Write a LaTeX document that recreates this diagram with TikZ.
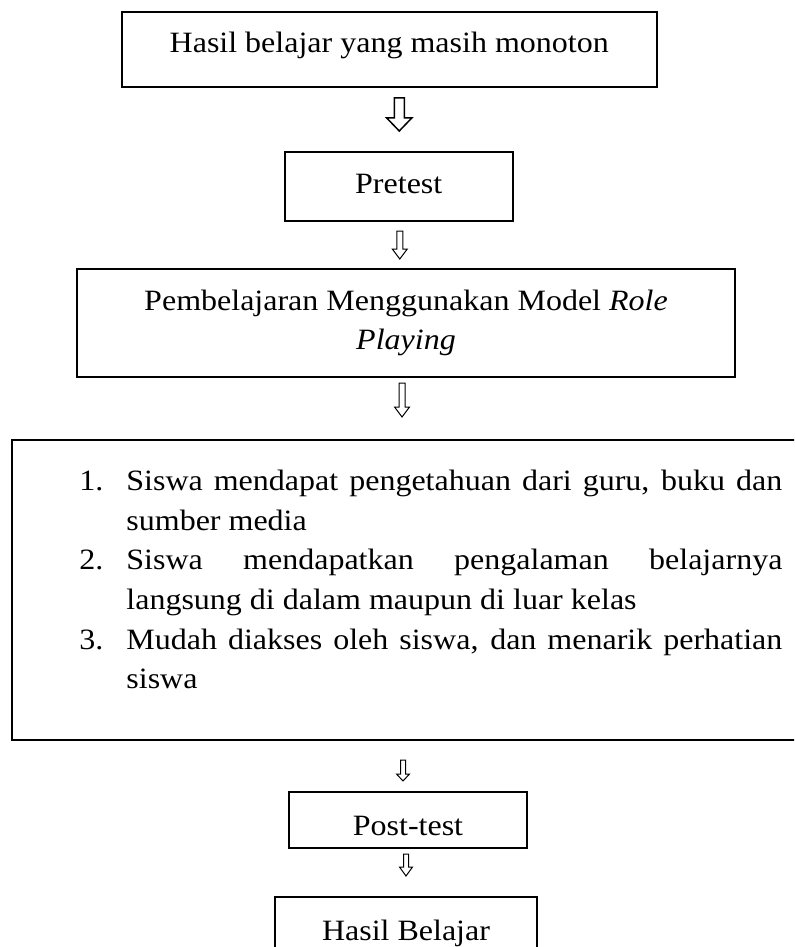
\documentclass[tikz,border=0pt]{standalone}
\usepackage{fontspec}
\setmainfont{Liberation Serif}[FakeStretch=1.085]
\usetikzlibrary{calc}
\newcommand{\flowfont}{\fontsize{14.75}{19.85}\selectfont}
% hollow block arrow pointing down: [opts]{start}{end}{half shaft}{half head}{head length}
\newcommand{\hollowarrow}[6][]{%
  \draw[hollow,#1] ($(#2)+(-#4,0)$) -- ($(#3)+(-#4,-#6)$) -- ($(#3)+(-#5,-#6)$)
    -- (#3) -- ($(#3)+(#5,-#6)$) -- ($(#3)+(#4,-#6)$) -- ($(#2)+(#4,0)$) -- cycle;}

\begin{document}
\begin{tikzpicture}[
    x=0.5pt,y=-0.5pt,
    stage/.style={draw,line width=1pt,font=\flowfont,inner sep=0pt},
    hollow/.style={draw,line width=0.5pt,line join=miter,fill=white}
  ]
  \useasboundingbox (0,0) rectangle (794,947);
  \clip (0,0) rectangle (794,947);

  \node[stage,minimum width=267.75pt,minimum height=37.5pt,text height=10pt,text depth=6.5pt]
    (awal) at (389.25,49.5) {Hasil belajar yang masih monoton};
  \node[stage,minimum width=114.25pt,minimum height=34.5pt,text height=10pt,text depth=3.5pt]
    (pre) at (398.75,186.5) {Pretest};
  \node[stage,minimum width=329pt,minimum height=54pt,align=center]
    (model) at (406,323) {Pembelajaran Menggunakan Model \textit{Role}\\\textit{Playing}};

  % box with the three points, its right side runs off the page
  \node[stage,minimum width=397pt,minimum height=150pt] (kotak) at (409,590) {};
  \node[anchor=north west,inner sep=0pt,font=\flowfont] (langkah) at (79,462.2) {%
    \hyphenpenalty=10000
    \begin{tabular}{@{}p{23.5pt}@{}p{328pt}@{}}
      1. & Siswa mendapat pengetahuan dari guru, buku dan\linebreak sumber media\\
      2. & Siswa mendapatkan pengalaman belajarnya\linebreak langsung di dalam maupun di luar kelas\\
      3. & Mudah diakses oleh siswa, dan menarik perhatian\linebreak siswa
    \end{tabular}};

  \node[stage,minimum width=119pt,minimum height=28pt,text height=15.5pt,text depth=0.5pt]
    (post) at (408,820) {Post-test};
  \node[stage,minimum width=131pt,minimum height=37pt,text height=10pt,text depth=4pt]
    (akhir) at (406,934) {Hasil Belajar};

  \coordinate (a1s) at ($(awal.south)+(10,10)$);
  \coordinate (a1e) at ($(a1s |- pre.north)+(0,-20)$);
  \coordinate (a2s) at ($(pre.south)+(1,9)$);
  \coordinate (a2e) at ($(a2s |- model.north)+(0,-9)$);
  \coordinate (a3s) at ($(model.south)+(-4,5)$);
  \coordinate (a3e) at ($(a3s |- kotak.north)+(0,-22)$);
  \coordinate (a4s) at ($(a3s |- kotak.south)+(1,19)$);
  \coordinate (a4e) at ($(a4s |- post.north)+(0,-10)$);
  \coordinate (a5s) at ($(post.south)+(-2,5)$);
  \coordinate (a5e) at ($(a5s |- akhir.north)+(0,-20)$);

  \hollowarrow[line width=0.75pt]{a1s}{a1e}{5}{12.5}{13}
  \hollowarrow{a2s}{a2e}{3}{7.5}{10}
  \hollowarrow{a3s}{a3e}{3}{7.5}{10}
  \hollowarrow{a4s}{a4e}{2.5}{6.5}{7}
  \hollowarrow{a5s}{a5e}{2.5}{6.5}{9}
\end{tikzpicture}
\end{document}
